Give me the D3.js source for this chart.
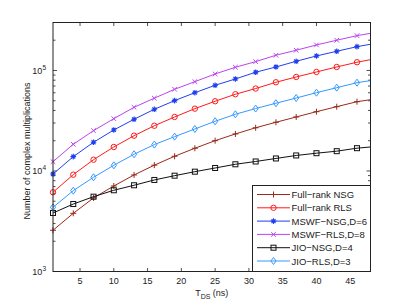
<!DOCTYPE html>
<html>
<head>
<meta charset="utf-8">
<script src="https://cdn.jsdelivr.net/npm/d3@7"></script>
<style>
  body { margin: 0; background: #fff; }
  text { font-family: "Liberation Sans", Arial, sans-serif; }
</style>
</head>
<body>
<div id="graph"></div>
<script>
// T_DS values, markers on every point except the last (line end)
var tds = [1, 4, 7, 10, 13, 16, 19, 22, 25, 28, 31, 34, 37, 40, 43, 46, 48];

var fullRankNSG = [2570, 3790, 5390, 7090, 9130, 11420, 14010, 16830, 20020, 23350, 26910, 30520, 34460, 38900, 43600, 48900, 51200];
var fullRankRLS = [6140, 9190, 12950, 17330, 22450, 28180, 34460, 41700, 49400, 58000, 66100, 76300, 86200, 96600, 108300, 120700, 128100];
var mswfNSG = [9330, 13880, 19310, 25580, 32690, 41100, 50100, 60100, 71200, 82300, 96000, 108300, 123400, 139400, 155200, 172500, 182300];
var mswfRLS = [12370, 18440, 25180, 33140, 43000, 53000, 65000, 77400, 92300, 107600, 122400, 141700, 158900, 179400, 199800, 222000, 234000];
var jioNSG = [3820, 4690, 5550, 6430, 7210, 8140, 8980, 9840, 10710, 11660, 12430, 13320, 14270, 15030, 15740, 16860, 17330];
var jioRLS = [4350, 6370, 8660, 11390, 14660, 18310, 21940, 26170, 31220, 36660, 41800, 47200, 53200, 60100, 67400, 75600, 79200];

var seriesNames = ['Full\u2212rank NSG', 'Full\u2212rank RLS', 'MSWF\u2212NSG,D=6', 'MSWF\u2212RLS,D=8', 'JIO\u2212NSG,D=4', 'JIO\u2212RLS,D=3'];
var seriesValues = [fullRankNSG, fullRankRLS, mswfNSG, mswfRLS, jioNSG, jioRLS];
var seriesColors = ['#992a1c', '#ff1a1a', '#1f3ff0', '#bb44f0', '#111111', '#3399ff'];
var seriesMarkers = ['plus', 'circle', 'star', 'cross', 'square', 'diamond'];

var xTicks = [5, 10, 15, 20, 25, 30, 35, 40, 45];
var yMajor = [1e3, 1e4, 1e5];

var width = 409, height = 307;
var plotLeft = 53, plotRight = 370.5, plotTop = 22.5, plotBottom = 271.5;

var x = d3.scaleLinear().domain([1, 48]).range([plotLeft, plotRight]);
var y = d3.scaleLog().domain([1e3, 3e5]).range([plotBottom, plotTop]);

var svg = d3.select('#graph').append('svg')
  .attr('width', width).attr('height', height);

// ticks (inward, mirrored like matlab box)
var axes = svg.append('g').attr('stroke', '#222').attr('stroke-width', 0.8);
xTicks.forEach(function(t){
  axes.append('line').attr('x1', x(t)).attr('x2', x(t)).attr('y1', plotBottom).attr('y2', plotBottom - 3.5);
  axes.append('line').attr('x1', x(t)).attr('x2', x(t)).attr('y1', plotTop).attr('y2', plotTop + 3.5);
});
y.ticks().forEach(function(t){
  var major = yMajor.indexOf(t) >= 0;
  var len = major ? 4 : 2.5;
  axes.append('line').attr('x1', plotLeft).attr('x2', plotLeft + len).attr('y1', y(t)).attr('y2', y(t));
  axes.append('line').attr('x1', plotRight).attr('x2', plotRight - len).attr('y1', y(t)).attr('y2', y(t));
});

// tick labels
svg.append('g').selectAll('text').data(xTicks).enter().append('text')
  .attr('x', function(d){ return x(d); })
  .attr('y', plotBottom + 12)
  .attr('text-anchor', 'middle')
  .attr('font-size', 9)
  .attr('fill', '#222')
  .text(function(d){ return d; });

var yl = svg.append('g').selectAll('text').data(yMajor).enter().append('text')
  .attr('x', plotLeft - 7)
  .attr('y', function(d){ return y(d) + 3.5; })
  .attr('text-anchor', 'end')
  .attr('font-size', 9)
  .attr('fill', '#222');
yl.append('tspan').text('10');
yl.append('tspan').attr('font-size', 6.5).attr('dy', -4)
  .text(function(d){ return Math.round(Math.log10(d)); });

// axis labels
var xl = svg.append('text')
  .attr('x', (plotLeft + plotRight) / 2).attr('y', plotBottom + 24)
  .attr('text-anchor', 'middle').attr('font-size', 9).attr('fill', '#222');
xl.append('tspan').text('T');
xl.append('tspan').attr('font-size', 7).attr('dy', 3).text('DS');
xl.append('tspan').attr('dy', -3).text(' (ns)');

svg.append('text')
  .attr('transform', 'translate(30,' + 151 + ') rotate(-90)')
  .attr('text-anchor', 'middle').attr('font-size', 9).attr('fill', '#222')
  .text('Number of complex multiplications');

// markers
var marker = function(g, type, color){
  if(type == 'circle'){
    g.append('circle').attr('r', 2.7).attr('fill', 'none').attr('stroke', color).attr('stroke-width', 1);
  } else if(type == 'square'){
    g.append('rect').attr('x', -2.5).attr('y', -2.5).attr('width', 5).attr('height', 5)
      .attr('fill', 'none').attr('stroke', color).attr('stroke-width', 1);
  } else if(type == 'diamond'){
    g.append('path').attr('d', 'M0,-3.5L2.6,0L0,3.5L-2.6,0Z')
      .attr('fill', 'none').attr('stroke', color).attr('stroke-width', 1);
  } else if(type == 'plus'){
    g.append('path').attr('d', 'M-3,0H3M0,-3V3').attr('stroke', color).attr('stroke-width', 1);
  } else if(type == 'cross'){
    g.append('path').attr('d', 'M-2.3,-2.3L2.3,2.3M-2.3,2.3L2.3,-2.3').attr('stroke', color).attr('stroke-width', 1);
  } else if(type == 'star'){
    g.append('path').attr('d', 'M-2.8,0H2.8M0,-2.8V2.8M-2,-2L2,2M-2,2L2,-2').attr('stroke', color).attr('stroke-width', 1.1);
    g.append('circle').attr('r', 1.4).attr('fill', color);
  }
};

var line = d3.line()
  .x(function(d, i){ return x(tds[i]); })
  .y(function(d){ return y(d); });

var plot = svg.append('g');
seriesValues.forEach(function(vals, k){
  plot.append('path').datum(vals)
    .attr('d', line)
    .attr('fill', 'none')
    .attr('stroke', seriesColors[k])
    .attr('stroke-width', 1);
  vals.forEach(function(v, i){
    if(i == vals.length - 1) return;
    var g = plot.append('g').attr('transform', 'translate(' + x(tds[i]) + ',' + y(v) + ')');
    marker(g, seriesMarkers[k], seriesColors[k]);
  });
});

// box
svg.append('rect')
  .attr('x', plotLeft).attr('y', plotTop)
  .attr('width', plotRight - plotLeft).attr('height', plotBottom - plotTop)
  .attr('fill', 'none').attr('stroke', '#222').attr('stroke-width', 1);

// legend
var legX = 252.5, legY = 185.5, legW = plotRight - legX, legH = plotBottom - legY;
svg.append('rect')
  .attr('x', legX).attr('y', legY).attr('width', legW).attr('height', legH)
  .attr('fill', '#fff').attr('stroke', '#222').attr('stroke-width', 1);
seriesNames.forEach(function(name, k){
  var ry = legY + 9 + k * 13.3;
  svg.append('line')
    .attr('x1', legX + 4.5).attr('x2', legX + 37.5).attr('y1', ry).attr('y2', ry)
    .attr('stroke', seriesColors[k]).attr('stroke-width', 1);
  var g = svg.append('g').attr('transform', 'translate(' + (legX + 21) + ',' + ry + ')');
  marker(g, seriesMarkers[k], seriesColors[k]);
  svg.append('text')
    .attr('x', legX + 39).attr('y', ry + 3.5)
    .attr('font-size', 9.5).attr('fill', '#222')
    .text(name);
});
</script>
</body>
</html>
